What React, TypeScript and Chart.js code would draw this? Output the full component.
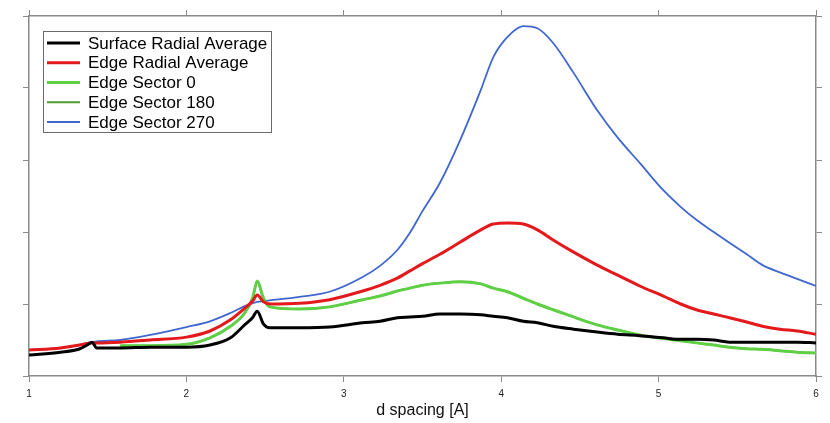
import React, { useEffect, useRef } from "react";
import { Chart, registerables } from "chart.js";

Chart.register(...registerables);

const dSpacing = [
  1.0, 1.2, 1.32, 1.37, 1.4, 1.43, 1.58, 1.77, 2.0, 2.15, 2.28, 2.37, 2.42, 2.45, 2.49, 2.53,
  2.72, 2.91, 3.12, 3.23, 3.34, 3.42, 3.5, 3.61, 3.74, 3.87, 3.95, 4.04, 4.14, 4.23, 4.33, 4.46, 4.61,
  4.74, 4.88, 5.03, 5.14, 5.24, 5.35, 5.45, 5.56, 5.66, 5.77, 5.88, 6.0,
];

const surfaceRadial = [
  0.29, 0.33, 0.375, 0.43, 0.47, 0.39, 0.39, 0.4, 0.4, 0.43, 0.53, 0.71, 0.81, 0.9, 0.72, 0.67,
  0.67, 0.68, 0.74, 0.76, 0.81, 0.82, 0.83, 0.86, 0.86, 0.85, 0.83, 0.81, 0.76, 0.74, 0.69, 0.65, 0.61,
  0.58, 0.56, 0.53, 0.51, 0.51, 0.5, 0.47, 0.47, 0.47, 0.47, 0.47, 0.46,
];

const edgeRadial = [
  0.36, 0.39, 0.43, 0.45, 0.46, 0.46, 0.47, 0.5, 0.54, 0.625, 0.78, 0.94, 1.04, 1.125, 1.03, 1.0,
  1.01, 1.06, 1.18, 1.26, 1.36, 1.46, 1.56, 1.69, 1.86, 2.03, 2.11, 2.125, 2.11, 2.03, 1.89, 1.72, 1.54,
  1.4, 1.25, 1.11, 1.0, 0.92, 0.86, 0.81, 0.75, 0.69, 0.65, 0.625, 0.58,
];

const edgeSector0 = [
  null, null, null, null, null, null, 0.42, 0.42, 0.44, 0.53, 0.69, 0.875, 1.08, 1.32, 1.08, 0.96,
  0.93, 0.96, 1.06, 1.11, 1.18, 1.22, 1.26, 1.29, 1.31, 1.28, 1.22, 1.17, 1.08, 1.0, 0.92, 0.82, 0.71,
  0.64, 0.57, 0.52, 0.49, 0.46, 0.43, 0.4, 0.38, 0.37, 0.35, 0.33, 0.32,
];

const edgeSector180 = [
  null, null, null, null, null, null, 0.42, 0.42, 0.44, 0.53, 0.69, 0.87, 1.07, 1.3, 1.07, 0.96,
  0.93, 0.96, 1.06, 1.11, 1.18, 1.22, 1.26, 1.29, 1.31, 1.28, 1.22, 1.17, 1.08, 1.0, 0.92, 0.82, 0.71,
  0.64, 0.57, 0.52, 0.49, 0.46, 0.43, 0.4, 0.38, 0.37, 0.35, 0.33, 0.32,
];

const edgeSector270 = [
  0.36, 0.39, 0.43, 0.46, 0.47, 0.48, 0.5, 0.57, 0.68, 0.76, 0.875, 0.97, 1.01, 1.03, 1.04, 1.05,
  1.1, 1.17, 1.375, 1.53, 1.75, 1.99, 2.29, 2.68, 3.28, 3.97, 4.43, 4.71, 4.86, 4.83, 4.625, 4.21, 3.69,
  3.31, 2.96, 2.58, 2.35, 2.17, 2.0, 1.85, 1.69, 1.54, 1.44, 1.35, 1.25,
];

const xTicks = [1, 2, 3, 4, 5, 6];
const seriesLabels = [
  "Surface Radial Average",
  "Edge Radial Average",
  "Edge Sector 0",
  "Edge Sector 180",
  "Edge Sector 270",
];
const xTitle = "d spacing [A]";

const FONT = "'Liberation Sans', Arial, sans-serif";
const AXIS = "#8a8a8a";

function pts(ys: (number | null)[]) {
  return dSpacing.map((x, i) => ({ x, y: ys[i] }));
}

const legendPlugin = {
  id: "boxLegend",
  afterDraw(chart: any) {
    const ctx = chart.ctx;
    const x0 = 43.5, y0 = 31.5, w = 228, h = 101;
    ctx.save();
    ctx.fillStyle = "#ffffff";
    ctx.fillRect(x0, y0, w, h);
    ctx.strokeStyle = "#6a6a6a";
    ctx.lineWidth = 1;
    ctx.strokeRect(x0, y0, w, h);
    ctx.font = `17px ${FONT}`;
    ctx.textBaseline = "middle";
    chart.data.datasets.forEach((ds: any, i: number) => {
      const y = 43 + i * 19.75;
      ctx.strokeStyle = ds.borderColor;
      ctx.lineWidth = ds.borderWidth;
      ctx.beginPath();
      ctx.moveTo(47, y);
      ctx.lineTo(80, y);
      ctx.stroke();
      ctx.fillStyle = "#000";
      ctx.fillText(ds.label, 88, y + 1);
    });
    ctx.restore();
  },
};

export default function App() {
  const ref = useRef<HTMLCanvasElement>(null);
  useEffect(() => {
    document.body.style.margin = "0";
    const grid = {
      drawOnChartArea: false,
      drawTicks: true,
      tickLength: 6,
      color: AXIS,
      lineWidth: 1,
    };
    const border = { display: true, color: AXIS, width: 1.5 };
    const chart = new Chart(ref.current!, {
      type: "line",
      data: {
        datasets: [
          { label: seriesLabels[0], data: pts(surfaceRadial), borderColor: "#000000", borderWidth: 3 },
          { label: seriesLabels[1], data: pts(edgeRadial), borderColor: "#e3191c", borderWidth: 3 },
          { label: seriesLabels[2], data: pts(edgeSector0), borderColor: "#5fcf45", borderWidth: 3 },
          { label: seriesLabels[3], data: pts(edgeSector180), borderColor: "#4e9a2c", borderWidth: 2 },
          { label: seriesLabels[4], data: pts(edgeSector270), borderColor: "#3f67cf", borderWidth: 1.8 },
        ].map((d) => ({ ...d, pointRadius: 0, fill: false, cubicInterpolationMode: "monotone" as const })),
      },
      options: {
        responsive: false,
        animation: false,
        layout: { padding: { left: 29, right: 14, top: 16, bottom: 0 } },
        plugins: { legend: { display: false }, tooltip: { enabled: false } },
        scales: {
          x: {
            type: "linear",
            position: "bottom",
            min: 1,
            max: 6,
            afterBuildTicks: (s: any) => {
              s.ticks = xTicks.map((v) => ({ value: v }));
            },
            ticks: { font: { size: 10, family: FONT }, color: "#222", padding: 6, maxRotation: 0 },
            grid,
            border,
            title: {
              display: true,
              text: xTitle,
              font: { size: 16, family: FONT },
              color: "#111",
              padding: { top: 0, bottom: 3 },
            },
            afterFit: (s: any) => {
              s.height = 47;
            },
          },
          x2: {
            type: "linear",
            position: "top",
            min: 1,
            max: 6,
            afterBuildTicks: (s: any) => {
              s.ticks = xTicks.map((v) => ({ value: v }));
            },
            ticks: { display: false },
            grid,
            border,
            afterFit: (s: any) => {
              s.height = 0;
            },
          },
          y: {
            type: "linear",
            position: "left",
            min: 0,
            max: 5,
            ticks: { display: false, stepSize: 1 },
            grid,
            border,
            afterFit: (s: any) => {
              s.width = 0;
            },
          },
          y2: {
            type: "linear",
            position: "right",
            min: 0,
            max: 5,
            ticks: { display: false, stepSize: 1 },
            grid,
            border,
            afterFit: (s: any) => {
              s.width = 0;
            },
          },
        },
      },
      plugins: [legendPlugin],
    });
    return () => chart.destroy();
  }, []);
  return (
    <div style={{ width: 830, height: 423 }}>
      <canvas ref={ref} width={830} height={423} />
    </div>
  );
}
